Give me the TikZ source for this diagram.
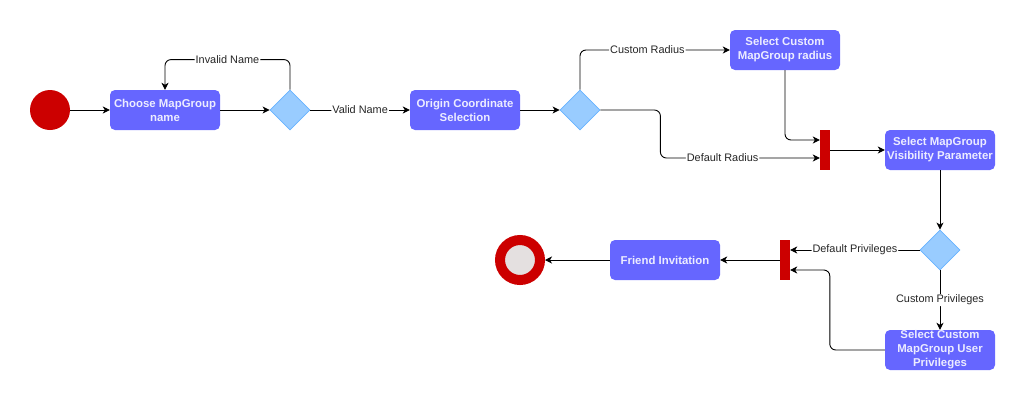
\documentclass[tikz,border=0pt]{standalone}
\usepackage{fontspec}
\setmainfont{Liberation Sans}
\usetikzlibrary{arrows.meta,shapes.geometric}

\definecolor{actblue}{RGB}{102,102,255}
\definecolor{acttext}{RGB}{236,236,255}
\definecolor{choicefill}{RGB}{153,204,255}
\definecolor{choicedraw}{RGB}{102,178,255}
\definecolor{barred}{RGB}{204,0,0}
\definecolor{stopgrey}{RGB}{228,224,224}

\tikzset{
  act/.style={rectangle, rounded corners=5pt, fill=actblue, text=acttext,
    minimum width=110pt, minimum height=40pt, inner sep=0pt, align=center,
    font=\fontsize{11.4}{14}\selectfont\bfseries},
  choice/.style={diamond, aspect=1, fill=choicefill, draw=choicedraw,
    line width=0.8pt, minimum width=40pt, minimum height=40pt, inner sep=0pt},
  bar/.style={rectangle, fill=barred, minimum width=10pt, minimum height=40pt, inner sep=0pt},
  flow/.style={-{Stealth[length=7pt,width=7pt,inset=2pt]}, line width=0.9pt, rounded corners=6pt},
  lbl/.style={fill=white, inner sep=1pt, text=black!85, font=\fontsize{10.9}{13}\selectfont}
}

\begin{document}
\begin{tikzpicture}[x=1pt,y=-1pt]
    \useasboundingbox (0,0) rectangle (1026,402);

    \node[circle, fill=barred, minimum size=40pt, inner sep=0pt] (start) at (50,110) {};
    \node[circle, fill=stopgrey, draw=barred, line width=10pt, minimum size=40pt,
      inner sep=0pt, outer sep=5pt] (stop) at (520,260) {};

    \node[act] (choose) at (165,110) {Choose MapGroup\\name};
    \node[act] (origin) at (465,110) {Origin Coordinate\\Selection};
    \node[act] (custrad) at (785,50) {Select Custom\\MapGroup radius};
    \node[act] (visib) at (940,150) {Select MapGroup\\Visibility Parameter};
    \node[act] (custpriv) at (940,350) {Select Custom\\MapGroup User\\Privileges};
    \node[act] (friend) at (665,260) {Friend Invitation};

    \foreach \n/\x/\y in {dname/290/110, dradius/580/110, dpriv/940/250}
        \node[choice] (\n) at (\x,\y) {};
    \foreach \n/\x/\y in {join1/825/150, join2/785/260}
        \node[bar] (\n) at (\x,\y) {};

    \draw[flow] (start) -- (choose);
    \draw[flow] (choose) -- (dname);
    \draw[flow] (dname.north) -- ++(0,-30) -| node[lbl,pos=0.25]{Invalid Name} (choose.north);
    \draw[flow] (dname) -- node[lbl]{Valid Name} (origin);
    \draw[flow] (origin) -- (dradius);
    \draw[flow] (dradius.north) |- node[lbl,pos=0.725]{Custom Radius} (custrad.west);
    \draw[flow] (custrad.south) |- ([yshift=10pt]join1.west);
    \draw[flow] (dradius.east) -- ++(60,0) |- node[lbl,pos=0.695]{Default Radius} ([yshift=-8pt]join1.west);
    \draw[flow] (join1) -- (visib);
    \draw[flow] (visib) -- (dpriv);
    \draw[flow] (dpriv.west) -- node[lbl]{Default Privileges} ([yshift=10pt]join2.east);
    \draw[flow] (dpriv) -- node[lbl]{Custom Privileges} (custpriv);
    \draw[flow] (custpriv.west) -- ++(-55,0) |- ([yshift=-10pt]join2.east);
    \draw[flow] (join2) -- (friend);
    \draw[flow] (friend) -- (stop);
\end{tikzpicture}
\end{document}
